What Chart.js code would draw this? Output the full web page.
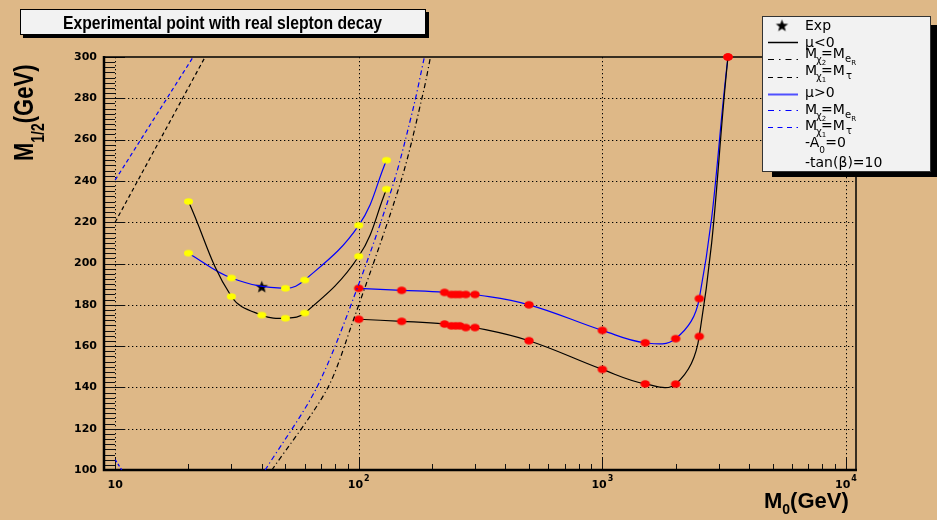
<!DOCTYPE html>
<html>
<head>
<meta charset="utf-8">
<script src="https://cdn.jsdelivr.net/npm/chart.js@4/dist/chart.umd.min.js"></script>
<style>
html, body { margin: 0; padding: 0; background: #deb887; }
#wrap { position: relative; width: 937px; height: 520px; }
</style>
</head>
<body>
<div id="wrap"><canvas id="chart" width="937" height="520"></canvas></div>
<script>
// values (M0 in GeV, M1/2 in GeV)
var lowNegM0 = [20, 30, 40, 50, 60, 100, 130];
var lowNeg = [230, 184, 175, 173.5, 176, 203.5, 236];
var lowPosM0 = [20, 30, 50, 60, 100, 130];
var lowPos = [205, 193, 188, 192, 218.5, 250];

var highM0 = [100, 150, 225, 240, 250, 260, 275, 300, 500, 1000, 1500, 2000, 2500, 3280];
var highNeg = [173, 172, 170.7, 169.8, 169.8, 169.8, 169, 169, 162.6, 148.7, 141.7, 141.6, 164.7, 300];
var highPos = [188, 187, 186, 185, 185, 185, 185, 185, 180, 167.6, 161.6, 163.6, 183, 300];

var chi2NegM0 = [44, 74, 94, 150, 185, 197];
var chi2Neg = [100, 139, 171, 241, 284, 300];
var chi2PosM0 = [41.3, 67.3, 100, 139, 168, 186];
var chi2Pos = [100, 140, 190, 239, 276, 300];

var chi1NegM0 = [10, 15.3, 23.4];
var chi1Neg = [220, 260, 300];
var chi1PosM0 = [10, 20.9];
var chi1Pos = [240.4, 300];
var chi1PosLowM0 = [10, 10.65];
var chi1PosLow = [105, 100];

var expM0 = [40];
var expM12 = [189];

var yTickLabels = [100, 120, 140, 160, 180, 200, 220, 240, 260, 280, 300];
var xDecades = [10, 100, 1000, 10000];
var xDecadeExp = ['', '2', '3', '4'];

function pts(xs, ys) {
  return xs.map(function (x, i) { return { x: x, y: ys[i] }; });
}

function ellipseSprite(color, w, h) {
  var c = document.createElement('canvas');
  c.width = Math.ceil(w) + 2; c.height = Math.ceil(h) + 2;
  var g = c.getContext('2d');
  g.fillStyle = color;
  g.beginPath();
  g.ellipse(c.width / 2, c.height / 2, w / 2, h / 2, 0, 0, Math.PI * 2);
  g.fill();
  return c;
}

function starSprite(r) {
  var s = Math.ceil(r * 2) + 2;
  var c = document.createElement('canvas');
  c.width = s; c.height = s;
  var g = c.getContext('2d');
  g.fillStyle = '#000';
  g.beginPath();
  for (var i = 0; i < 10; i++) {
    var rr = i % 2 ? r * 0.42 : r;
    var a = -Math.PI / 2 + i * Math.PI / 5;
    g.lineTo(s / 2 + rr * Math.cos(a), s / 2 + 1 + rr * Math.sin(a));
  }
  g.closePath();
  g.fill();
  return c;
}

var yellowDot = ellipseSprite('#ffff00', 9, 6.5);
var redDot = ellipseSprite('#ff0000', 9.5, 7.5);
var star = starSprite(6.5);

function fitText(ctx, txt, font, cx, by, width) {
  ctx.font = font;
  var w = ctx.measureText(txt).width;
  ctx.save();
  ctx.translate(cx, by);
  ctx.scale(width / w, 1);
  ctx.textAlign = 'center';
  ctx.fillText(txt, 0, 0);
  ctx.restore();
}

function runs(ctx, x, y, list, family) {
  // list: [text, size, dy, weight]
  var cx = x;
  list.forEach(function (r) {
    ctx.font = (r[3] || 'normal') + ' ' + r[1] + 'px "' + family + '"';
    ctx.fillText(r[0], cx, y + (r[2] || 0));
    cx += ctx.measureText(r[0]).width;
  });
  return cx - x;
}

var rootFrame = {
  id: 'rootFrame',
  beforeDatasetsDraw: function (chart) {
    var ctx = chart.ctx, a = chart.chartArea;
    var xs = chart.scales.x, ys = chart.scales.y;
    ctx.save();
    // dotted grid
    ctx.strokeStyle = '#000';
    ctx.lineWidth = 1;
    ctx.setLineDash([1.3, 2.7]);
    ctx.beginPath();
    yTickLabels.forEach(function (v) {
      if (v <= ys.min || v >= ys.max) return;
      var p = Math.round(ys.getPixelForValue(v)) + 0.5;
      ctx.moveTo(a.left, p); ctx.lineTo(a.right, p);
    });
    xDecades.forEach(function (v) {
      var p = Math.round(xs.getPixelForValue(v)) + 0.5;
      ctx.moveTo(p, a.top); ctx.lineTo(p, a.bottom);
    });
    ctx.stroke();
    ctx.setLineDash([]);

    // ticks drawn inward, ROOT style
    ctx.strokeStyle = '#111';
    ctx.beginPath();
    for (var v = ys.min; v <= ys.max + 0.01; v += 2.5) {
      var py = Math.round(ys.getPixelForValue(v)) + 0.5;
      var len = (Math.abs(v % 20) < 0.01) ? 21 : 11;
      ctx.moveTo(a.left, py); ctx.lineTo(a.left + len, py);
    }
    for (var d = 1; d <= 10000; d *= 10) {
      for (var k = 1; k <= 9; k++) {
        var xv = k * d;
        if (xv < xs.min || xv > xs.max) continue;
        var px = Math.round(xs.getPixelForValue(xv)) + 0.5;
        var l2 = k === 1 ? 12 : 6;
        ctx.moveTo(px, a.bottom); ctx.lineTo(px, a.bottom - l2);
      }
    }
    ctx.stroke();

    // frame
    ctx.strokeStyle = '#000';
    ctx.lineWidth = 1.5;
    ctx.beginPath();
    ctx.moveTo(a.left, a.top); ctx.lineTo(a.right, a.top);
    ctx.moveTo(a.right, a.top); ctx.lineTo(a.right, a.bottom);
    ctx.stroke();
    ctx.lineWidth = 2.5;
    ctx.beginPath();
    ctx.moveTo(a.left, a.top - 1); ctx.lineTo(a.left, a.bottom);
    ctx.lineTo(a.right + 1, a.bottom);
    ctx.stroke();

    // x tick labels 10, 10^2 ...
    ctx.fillStyle = '#000';
    ctx.textAlign = 'left';
    ctx.textBaseline = 'alphabetic';
    xDecades.forEach(function (v, i) {
      var px = xs.getPixelForValue(v);
      ctx.font = 'bold 11px "DejaVu Sans"';
      var w1 = ctx.measureText('10').width;
      ctx.font = 'bold 8px "DejaVu Sans"';
      var w2 = xDecadeExp[i] ? ctx.measureText(xDecadeExp[i]).width + 1 : 0;
      var x0 = px - (w1 + w2) / 2;
      ctx.font = 'bold 11px "DejaVu Sans"';
      ctx.fillText('10', x0, 488);
      if (xDecadeExp[i]) {
        ctx.font = 'bold 8px "DejaVu Sans"';
        ctx.fillText(xDecadeExp[i], x0 + w1 + 1, 481);
      }
    });
    ctx.restore();
  },
  afterDraw: function (chart) {
    var ctx = chart.ctx;
    ctx.save();
    ctx.textAlign = 'left';
    ctx.textBaseline = 'alphabetic';

    // title pave
    ctx.fillStyle = '#000';
    ctx.fillRect(23, 12, 406, 26);
    ctx.fillStyle = '#f2f2f2';
    ctx.fillRect(20, 9, 406, 26);
    ctx.strokeStyle = '#000';
    ctx.lineWidth = 1;
    ctx.strokeRect(20.5, 9.5, 405, 25);
    ctx.fillStyle = '#000';
    fitText(ctx, 'Experimental point with real slepton decay', 'bold 18px "Liberation Sans"', 222.5, 29, 319);

    // axis titles
    ctx.save();
    ctx.translate(33, 161);
    ctx.rotate(-Math.PI / 2);
    ctx.scale(1, 1.25);
    runs(ctx, 0, 0, [['M', 22, 0, 'bold'], ['1/2', 14, 9, 'bold'], ['(GeV)', 22, 0, 'bold']], 'Liberation Sans');
    ctx.restore();
    runs(ctx, 764, 508, [['M', 22, 0, 'bold'], ['0', 14, 6, 'bold'], ['(GeV)', 22, 0, 'bold']], 'Liberation Sans');

    // legend pave
    ctx.fillStyle = '#000';
    ctx.fillRect(772, 25, 170, 152);
    ctx.fillStyle = '#f2f2f2';
    ctx.fillRect(762, 16, 169, 156);
    ctx.strokeStyle = '#333';
    ctx.lineWidth = 1;
    ctx.strokeRect(762.5, 16.5, 168, 155);

    ctx.drawImage(star, 782 - star.width / 2, 25 - star.height / 2);
    var samples = [
      [42, '#000', 1.5, []],
      [59, '#000', 1.2, [6, 5, 1.5, 5]],
      [77, '#000', 1.2, [5, 4.5]],
      [94, '#5050ff', 2, []],
      [110, '#0000ff', 1.2, [6, 5, 1.5, 5]],
      [127, '#0000ff', 1.2, [5, 4.5]]
    ];
    samples.forEach(function (s) {
      ctx.strokeStyle = s[1];
      ctx.lineWidth = s[2];
      ctx.setLineDash(s[3]);
      ctx.beginPath();
      ctx.moveTo(768, s[0] + 0.5); ctx.lineTo(798, s[0] + 0.5);
      ctx.stroke();
    });
    ctx.setLineDash([]);

    ctx.fillStyle = '#000';
    var F = 'DejaVu Sans';
    runs(ctx, 805, 30, [['Exp', 14]], F);
    runs(ctx, 805, 47, [['\u03bc<0', 14]], F);
    [[58, '2'], [114, '2']].forEach(function (r) {
      runs(ctx, 805, r[0], [['M', 14]], F);
      runs(ctx, 816, r[0] + 5, [['\u03c7', 10], [r[1], 7, 2]], F);
      runs(ctx, 821, r[0], [['=M', 14]], F);
      runs(ctx, 845, r[0] + 4, [['e', 10], ['R', 7, 3]], F);
    });
    [[75], [130]].forEach(function (r) {
      runs(ctx, 805, r[0], [['M', 14]], F);
      runs(ctx, 816, r[0] + 5, [['\u03c7', 10], ['1', 7, 2]], F);
      runs(ctx, 821, r[0], [['=M', 14]], F);
      runs(ctx, 846, r[0] + 4, [['\u03c4', 10]], F);
    });
    runs(ctx, 805, 97, [['\u03bc>0', 14]], F);
    var w = runs(ctx, 805, 147, [['-A', 14]], F);
    runs(ctx, 805 + w, 153, [['0', 9]], F);
    runs(ctx, 805 + w + 6, 147, [['=0', 14]], F);
    runs(ctx, 805, 167, [['-tan(\u03b2)=10', 14]], F);
    ctx.restore();
  }
};

var line = { showLine: true, pointRadius: 0, borderWidth: 1.2, clip: false };

new Chart(document.getElementById('chart'), {
  type: 'scatter',
  data: {
    datasets: [
      Object.assign({ data: pts(chi1NegM0, chi1Neg), borderColor: '#000', borderDash: [4, 3], tension: 0 }, line),
      Object.assign({ data: pts(chi1PosM0, chi1Pos), borderColor: '#0000ff', borderDash: [4, 3], tension: 0 }, line),
      Object.assign({ data: pts(chi1PosLowM0, chi1PosLow), borderColor: '#0000ff', borderDash: [3, 2], tension: 0 }, line),
      Object.assign({ data: pts(chi2NegM0, chi2Neg), borderColor: '#000', borderDash: [5, 3, 1.2, 3], tension: 0.3 }, line),
      Object.assign({ data: pts(chi2PosM0, chi2Pos), borderColor: '#0000ff', borderDash: [5, 3, 1.2, 3], tension: 0.3 }, line),
      { data: pts(lowNegM0, lowNeg), showLine: true, borderColor: '#000', borderWidth: 1.2, tension: 0.4,
        pointStyle: yellowDot, pointRadius: 4, clip: false },
      { data: pts(lowPosM0, lowPos), showLine: true, borderColor: '#0000ff', borderWidth: 1.2, tension: 0.4,
        pointStyle: yellowDot, pointRadius: 4, clip: false },
      { data: pts(highM0, highNeg), showLine: true, borderColor: '#000', borderWidth: 1.2, tension: 0.4,
        pointStyle: redDot, pointRadius: 4, clip: false },
      { data: pts(highM0, highPos), showLine: true, borderColor: '#0000ff', borderWidth: 1.2, tension: 0.4,
        pointStyle: redDot, pointRadius: 4, clip: false },
      { data: pts(expM0, expM12), showLine: false, pointStyle: star, pointRadius: 6, clip: false }
    ]
  },
  options: {
    responsive: false,
    animation: false,
    events: [],
    layout: { padding: { top: 57, right: 81, left: 0, bottom: 0 } },
    plugins: { legend: { display: false }, tooltip: { enabled: false } },
    scales: {
      x: {
        type: 'logarithmic', min: 9, max: 11000,
        ticks: { display: false },
        grid: { display: false },
        border: { display: false },
        afterFit: function (s) { s.height = 50; }
      },
      y: {
        min: 100, max: 300,
        ticks: { stepSize: 20, color: '#000', padding: 7,
          font: { family: 'DejaVu Sans', weight: 'bold', size: 11 } },
        grid: { display: false, drawTicks: false },
        border: { display: false },
        afterFit: function (s) { s.width = 104; }
      }
    }
  },
  plugins: [rootFrame]
});
</script>
</body>
</html>
